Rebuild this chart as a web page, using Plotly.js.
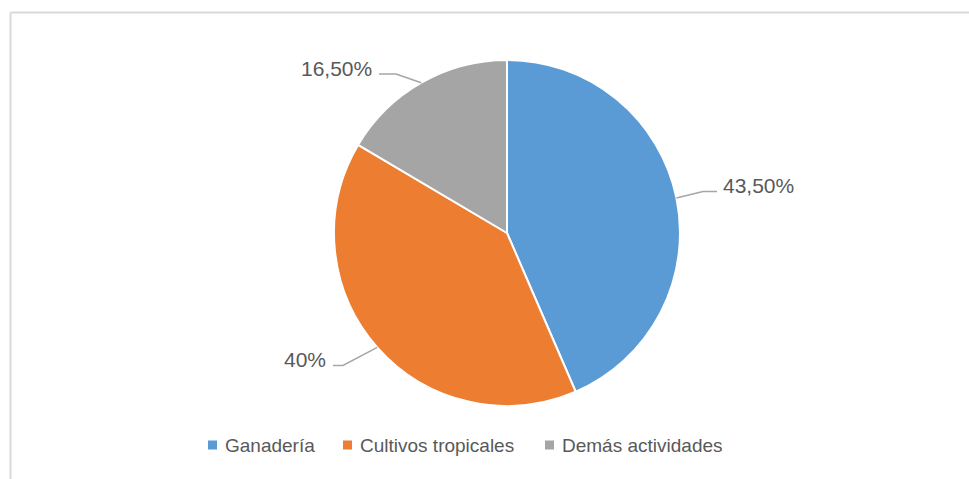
<!DOCTYPE html>
<html><head><meta charset="utf-8">
<script src="https://cdn.plot.ly/plotly-3.0.1.min.js"></script>
<style>html,body{margin:0;padding:0;background:#fff;}#chart{width:969px;height:479px;}</style>
</head><body><div id="chart"></div>
<script>
// ---- data ----
const categories = ["Ganadería", "Cultivos tropicales", "Demás actividades"];
const values = [43.5, 40, 16.5];
const valueLabels = ["43,50%", "40%", "16,50%"];
const colors = ["#5B9BD5", "#ED7D31", "#A5A5A5"];

// ---- layout constants (pixels) ----
const W = 969, H = 479;
const M = {l: 100, r: 55, t: 60, b: 73};
const PW = W - M.l - M.r, PH = H - M.t - M.b;
const cx = M.l + PW / 2, cy = M.t + PH / 2, R = Math.min(PW, PH) / 2;
const px = x => (x - M.l) / PW;
const py = y => (M.t + PH - y) / PH;

// leader-line elbow and end points, label side
const elbows = [[703, 191.5], [343, 365.5], [396, 74]];
const ends = [[717, 191.5], [333, 365.5], [379, 74]];
const sides = ["left", "right", "right"];
const legendX = [208, 343, 545];
const legendY = 445;

const total = values.reduce((a, b) => a + b, 0);
const shapes = [];
const annotations = [];
let cum = 0;
values.forEach((v, i) => {
  const th = 2 * Math.PI * (cum + v / 2) / total;
  cum += v;
  const ex = cx + R * Math.sin(th), ey = cy - R * Math.cos(th);
  shapes.push({type: "path", xref: "paper", yref: "paper",
    path: `M ${px(ex)} ${py(ey)} L ${px(elbows[i][0])} ${py(elbows[i][1])} L ${px(ends[i][0])} ${py(ends[i][1])}`,
    line: {color: "#A6A6A6", width: 1.5}});
  const tx = sides[i] === "left" ? ends[i][0] + 4 : ends[i][0] - 5;
  annotations.push({xref: "paper", yref: "paper", x: px(tx), y: py(ends[i][1] - 6),
    xanchor: sides[i], yanchor: "middle", showarrow: false, text: valueLabels[i],
    font: {family: "Liberation Sans, Arial, sans-serif", size: 21, color: "#595959"}});
  // legend
  shapes.push({type: "rect", xref: "paper", yref: "paper",
    x0: px(legendX[i]), x1: px(legendX[i] + 9), y0: py(legendY - 4.5), y1: py(legendY + 4.5),
    fillcolor: colors[i], line: {width: 0}});
  annotations.push({xref: "paper", yref: "paper", x: px(legendX[i] + 15), y: py(legendY),
    xanchor: "left", yanchor: "middle", showarrow: false, text: categories[i],
    font: {family: "Liberation Sans, Arial, sans-serif", size: 19, color: "#595959"}});
});

// chart-area border (left and top)
shapes.push({type: "line", xref: "paper", yref: "paper", x0: px(10.5), x1: px(10.5), y0: py(12.5), y1: py(H + 5), line: {color: "#D9D9D9", width: 2}});
shapes.push({type: "line", xref: "paper", yref: "paper", x0: px(10.5), x1: px(W + 5), y0: py(12.5), y1: py(12.5), line: {color: "#D9D9D9", width: 2}});

const trace = {
  type: "pie", labels: categories, values: values, sort: false,
  direction: "clockwise", rotation: 0, textinfo: "none", hoverinfo: "label+percent",
  marker: {colors: colors, line: {color: "#FFFFFF", width: 2}},
  automargin: false
};
Plotly.newPlot("chart", [trace], {
  width: W, height: H, margin: M, showlegend: false,
  paper_bgcolor: "#FFFFFF", plot_bgcolor: "#FFFFFF",
  shapes: shapes, annotations: annotations
}, {displayModeBar: false, staticPlot: true});
</script></body></html>
